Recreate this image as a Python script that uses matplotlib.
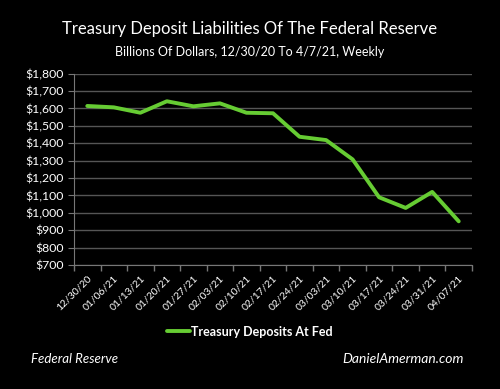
import matplotlib
matplotlib.use("Agg")
import matplotlib.pyplot as plt
from matplotlib.ticker import FuncFormatter, FixedLocator, MultipleLocator

dates = ["12/30/20", "01/06/21", "01/13/21", "01/20/21", "01/27/21", "02/03/21",
         "02/10/21", "02/17/21", "02/24/21", "03/03/21", "03/10/21", "03/17/21",
         "03/24/21", "03/31/21", "04/07/21"]
deposits = [1614, 1606, 1575, 1641, 1612, 1629, 1575, 1572, 1437, 1418, 1307,
            1089, 1028, 1120, 951]

plt.rcParams['font.family'] = ['Lato', 'DejaVu Sans']

fig = plt.figure(figsize=(5, 3.89), dpi=100, facecolor='black')
ax = fig.add_axes([0.148, 0.3188, 0.796, 0.492])
ax.set_facecolor('black')

x = list(range(len(dates)))
ax.plot(x, deposits, color='#66cc33', lw=2.8, solid_capstyle='round',
        solid_joinstyle='round', label='Treasury Deposits At Fed', zorder=3)

ax.set_xlim(-0.5, len(dates) - 0.5)
ax.set_ylim(700, 1800)
ax.yaxis.set_major_locator(MultipleLocator(100))
ax.yaxis.set_major_formatter(FuncFormatter(lambda v, p: f"${int(v):,}"))
ax.grid(axis='y', color='#555555', lw=1)
ax.set_axisbelow(True)

ax.set_xticks(x)
ax.set_xticklabels(dates, rotation=45, ha='right', rotation_mode='anchor',
                   color='white', fontsize=7.5)
ax.tick_params(axis='x', length=0, pad=6)
ax.xaxis.set_minor_locator(FixedLocator([i - 0.5 for i in range(len(dates) + 1)]))
ax.tick_params(axis='x', which='minor', length=4, color='#777777', width=1)
ax.tick_params(axis='y', colors='white', labelsize=8.8, length=4, color='#777777')

for s in ['top', 'right']:
    ax.spines[s].set_visible(False)
for s in ['left', 'bottom']:
    ax.spines[s].set_color('#777777')

fig.text(0.5, 0.925, "Treasury Deposit Liabilities Of The Federal Reserve",
         color='white', fontsize=12, ha='center', va='center')
fig.text(0.5, 0.866, "Billions Of Dollars, 12/30/20 To 4/7/21, Weekly",
         color='white', fontsize=9, ha='center', va='center')

leg = fig.legend(loc='center', bbox_to_anchor=(0.5, 0.147), frameon=False,
                 handlelength=1.8, handletextpad=0.1,
                 prop={'size': 9, 'weight': 'bold'})
for t in leg.get_texts():
    t.set_color('white')

fig.text(0.062, 0.077, "Federal Reserve", color='white', fontsize=9.5,
         style='italic', ha='left', va='center')
fig.text(0.928, 0.077, "DanielAmerman.com", color='white', fontsize=10,
         style='italic', ha='right', va='center')

fig.savefig('out.png', dpi=100, facecolor='black')
